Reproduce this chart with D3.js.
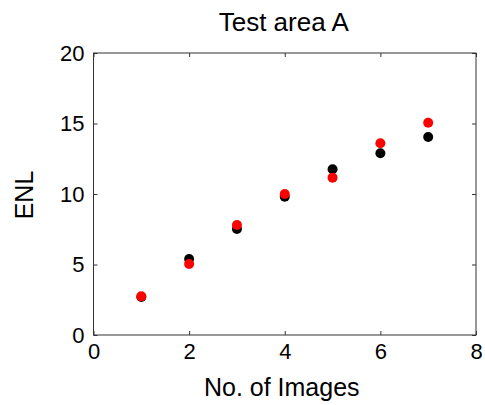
<!DOCTYPE html>
<html><head><meta charset="utf-8">
<script src="https://cdn.jsdelivr.net/npm/d3@7"></script>
<style>body{margin:0;background:#fff}svg{display:block}text{font-family:"Liberation Sans",Arial,sans-serif;fill:#000}</style>
</head><body>
<script>
const images = [1, 2, 3, 4, 5, 6, 7];
const seriesBlack = [2.7, 5.39, 7.52, 9.81, 11.75, 12.89, 14.04];
const seriesRed = [2.74, 5.03, 7.8, 10.0, 11.16, 13.6, 15.05];
const xTicks = [0, 2, 4, 6, 8];
const yTicks = [0, 5, 10, 15, 20];

const W = 485, H = 405;
const m = {l: 93.5, r: 476, t: 53, b: 335};
const svg = d3.select("body").append("svg").attr("width", W).attr("height", H);
const x = d3.scaleLinear().domain([0, 8]).range([m.l, m.r]);
const y = d3.scaleLinear().domain([0, 20]).range([m.b, m.t]);

const axisColor = "#333";
function style(g){ g.select(".domain").remove(); g.selectAll("line").attr("stroke", axisColor); g.selectAll("text").attr("font-size", 22).attr("fill","#000"); }

svg.append("g").attr("transform", `translate(0,${m.b})`)
  .call(d3.axisBottom(x).tickValues(xTicks).tickSizeInner(-4).tickSizeOuter(0).tickPadding(8).tickFormat(d3.format("d")))
  .call(style);
svg.append("g").attr("transform", `translate(${m.l},0)`)
  .call(d3.axisLeft(y).tickValues(yTicks).tickSizeInner(-4).tickSizeOuter(0).tickPadding(9).tickFormat(d3.format("d")))
  .call(style);
svg.append("g").attr("transform", `translate(0,${m.t})`)
  .call(d3.axisTop(x).tickValues(xTicks).tickSizeInner(-4).tickSizeOuter(0).tickFormat(""))
  .call(style);
svg.append("g").attr("transform", `translate(${m.r},0)`)
  .call(d3.axisRight(y).tickValues(yTicks).tickSizeInner(-4).tickSizeOuter(0).tickFormat(""))
  .call(style);

svg.append("rect").attr("x", m.l).attr("y", m.t).attr("width", m.r - m.l).attr("height", m.b - m.t)
  .attr("fill", "none").attr("stroke", axisColor).attr("stroke-width", 1);

svg.append("g").selectAll("circle").data(images).join("circle")
  .attr("cx", d => x(d)).attr("cy", (d,i) => y(seriesBlack[i])).attr("r", 5).attr("fill", "#000");
svg.append("g").selectAll("circle").data(images).join("circle")
  .attr("cx", d => x(d)).attr("cy", (d,i) => y(seriesRed[i])).attr("r", 5).attr("fill", "#ff0000");

svg.append("text").attr("x", (m.l + m.r)/2 - 1).attr("y", 31).attr("text-anchor", "middle").attr("font-size", 26).text("Test area A");
svg.append("text").attr("x", (m.l + m.r)/2 - 3).attr("y", 396).attr("text-anchor", "middle").attr("font-size", 25).text("No. of Images");
svg.append("text").attr("transform", `translate(33,195) rotate(-90)`).attr("text-anchor", "middle").attr("font-size", 25).text("ENL");
</script>
</body></html>
